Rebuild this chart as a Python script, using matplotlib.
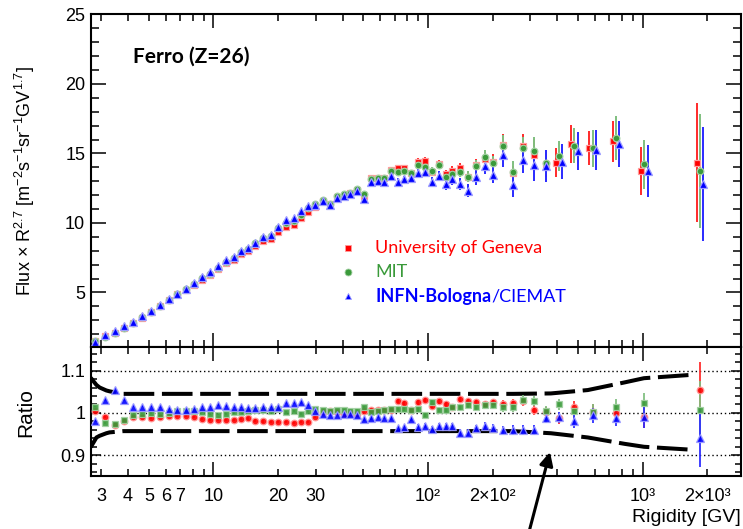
import numpy as np
import matplotlib.pyplot as plt
from matplotlib.patches import FancyArrowPatch
from matplotlib.ticker import MultipleLocator

plt.rcParams['font.family'] = ['Liberation Sans', 'DejaVu Sans']
plt.rcParams['mathtext.fontset'] = 'custom'
plt.rcParams['mathtext.rm'] = 'Liberation Sans'
plt.rcParams['mathtext.it'] = 'Liberation Sans:italic'
plt.rcParams['mathtext.bf'] = 'Liberation Sans:bold'

# bin centres [GV]
rigidity = [2.82, 3.13, 3.46, 3.83, 4.22, 4.65, 5.12, 5.63, 6.18, 6.77,
            7.42, 8.11, 8.86, 9.67, 10.55, 11.5, 12.5, 13.5, 14.5, 15.7,
            17.0, 18.5, 20.0, 21.8, 23.7, 25.6, 27.7, 29.9, 32.3, 34.8,
            37.5, 40.4, 43.5, 46.8, 50.3, 54.1, 58.2, 62.5, 67.2, 72.3,
            77.7, 83.4, 89.7, 96.4, 104, 112, 121, 130, 141, 154,
            168, 184, 202, 223, 248, 276, 311, 355, 409, 481,
            586, 753, 1020, 1850]

# flux x R^2.7 for the three analysis groups
flux_geneva = [1.47, 1.83, 2.08, 2.44, 2.81, 3.19, 3.56, 4.00, 4.42, 4.85,
               5.18, 5.55, 5.92, 6.27, 6.69, 7.10, 7.33, 7.79, 8.01, 8.33,
               8.67, 8.81, 9.34, 9.73, 9.86, 10.37, 10.76, 11.14, 11.61, 11.37,
               11.88, 11.96, 12.12, 12.35, 11.95, 13.20, 13.24, 13.26, 13.81, 13.93,
               13.93, 13.57, 14.37, 14.46, 13.69, 14.24, 13.50, 13.76, 13.93, 13.33,
               14.17, 14.60, 14.41, 15.61, 13.62, 15.56, 14.89, 14.24, 14.34, 15.68,
               15.42, 15.86, 13.76, 14.34]
flux_mit = [1.48, 1.81, 2.08, 2.44, 2.83, 3.21, 3.60, 4.03, 4.45, 4.90,
            5.25, 5.62, 6.02, 6.36, 6.77, 7.21, 7.46, 7.92, 8.15, 8.54,
            8.91, 9.05, 9.64, 9.96, 10.14, 10.58, 11.06, 11.35, 11.68, 11.38,
            11.92, 12.06, 12.18, 12.43, 12.05, 13.15, 13.20, 13.21, 13.76, 13.65,
            13.76, 13.57, 14.17, 14.01, 13.76, 14.17, 13.33, 13.52, 13.69, 13.33,
            14.10, 14.73, 14.29, 15.56, 13.69, 15.37, 15.20, 14.34, 14.82, 15.56,
            15.37, 16.10, 14.22, 13.74]
flux_infn = [1.43, 1.91, 2.25, 2.56, 2.88, 3.27, 3.65, 4.09, 4.49, 4.91,
             5.26, 5.66, 6.10, 6.47, 6.93, 7.34, 7.55, 8.00, 8.22, 8.58,
             8.97, 9.12, 9.69, 10.18, 10.33, 10.85, 11.21, 11.30, 11.58, 11.27,
             11.79, 11.97, 12.08, 12.30, 11.73, 12.95, 13.03, 12.97, 13.40, 12.97,
             13.15, 13.21, 13.57, 13.65, 12.97, 13.38, 12.80, 13.14, 12.80, 12.33,
             13.28, 14.10, 13.45, 14.89, 12.73, 14.53, 14.17, 14.10, 14.41, 15.18,
             15.25, 15.68, 13.74, 12.80]

err_geneva = [0.02, 0.02, 0.02, 0.03, 0.03, 0.03, 0.03, 0.04, 0.04, 0.04,
              0.04, 0.05, 0.05, 0.05, 0.05, 0.06, 0.06, 0.06, 0.07, 0.07,
              0.07, 0.08, 0.08, 0.09, 0.09, 0.10, 0.10, 0.11, 0.11, 0.12,
              0.12, 0.13, 0.14, 0.15, 0.16, 0.17, 0.18, 0.19, 0.20, 0.22,
              0.23, 0.25, 0.27, 0.28, 0.30, 0.32, 0.34, 0.36, 0.40, 0.42,
              0.46, 0.50, 0.55, 0.82, 0.50, 0.84, 1.17, 0.90, 1.02, 1.38,
              1.22, 1.44, 1.74, 4.26]
err_mit = [0.02, 0.02, 0.02, 0.03, 0.03, 0.03, 0.03, 0.04, 0.04, 0.04,
           0.04, 0.05, 0.05, 0.05, 0.05, 0.06, 0.06, 0.06, 0.07, 0.07,
           0.07, 0.08, 0.08, 0.09, 0.09, 0.10, 0.10, 0.11, 0.11, 0.12,
           0.12, 0.13, 0.14, 0.15, 0.16, 0.17, 0.18, 0.19, 0.20, 0.22,
           0.23, 0.25, 0.27, 0.28, 0.30, 0.32, 0.34, 0.36, 0.40, 0.42,
           0.46, 0.50, 0.55, 0.78, 0.80, 0.78, 0.95, 0.90, 1.10, 1.24,
           1.32, 1.56, 1.75, 4.10]
err_infn = [0.02, 0.02, 0.02, 0.03, 0.03, 0.03, 0.03, 0.04, 0.04, 0.04,
            0.04, 0.05, 0.05, 0.05, 0.05, 0.06, 0.06, 0.06, 0.07, 0.07,
            0.07, 0.08, 0.08, 0.09, 0.09, 0.10, 0.10, 0.11, 0.11, 0.12,
            0.12, 0.13, 0.14, 0.15, 0.16, 0.17, 0.18, 0.20, 0.22, 0.24,
            0.25, 0.27, 0.30, 0.32, 0.35, 0.38, 0.40, 0.42, 0.45, 0.48,
            0.52, 0.56, 0.60, 0.86, 0.84, 0.92, 1.14, 1.16, 1.26, 1.38,
            1.46, 1.68, 1.85, 4.10]

# ratio to the combined flux
ratio_geneva = [1.005, 0.990, 0.972, 0.982, 0.990, 0.990, 0.988, 0.991, 0.993, 0.993,
                0.993, 0.991, 0.985, 0.984, 0.984, 0.984, 0.984, 0.986, 0.987, 0.982,
                0.980, 0.979, 0.978, 0.978, 0.976, 0.978, 0.978, 0.990, 1.001, 1.004,
                1.003, 0.998, 0.999, 0.998, 1.004, 1.007, 1.007, 1.007, 1.008, 1.029,
                1.024, 1.007, 1.025, 1.031, 1.017, 1.027, 1.021, 1.013, 1.033, 1.027,
                1.025, 1.020, 1.025, 1.020, 1.023, 1.027, 1.007, 1.001, 0.987, 1.013,
                1.003, 0.999, 0.990, 1.053]
ratio_mit = [1.015, 0.976, 0.974, 0.984, 0.996, 0.998, 0.999, 0.998, 0.999, 1.005,
             1.005, 1.004, 1.001, 0.998, 0.996, 0.998, 1.001, 1.003, 1.004, 1.007,
             1.007, 1.005, 1.009, 1.001, 1.004, 0.998, 1.005, 1.009, 1.007, 1.005,
             1.007, 1.007, 1.004, 1.005, 1.013, 1.003, 1.004, 1.007, 1.009, 1.009,
             1.009, 1.008, 1.009, 0.996, 1.025, 1.008, 1.008, 1.013, 1.013, 1.019,
             1.013, 1.019, 1.019, 1.013, 1.013, 1.031, 1.029, 1.005, 1.020, 1.005,
             1.003, 1.015, 1.023, 1.007]
ratio_infn = [0.980, 1.031, 1.053, 1.031, 1.015, 1.015, 1.015, 1.013, 1.009, 1.007,
              1.007, 1.010, 1.015, 1.015, 1.019, 1.017, 1.013, 1.013, 1.012, 1.012,
              1.013, 1.013, 1.015, 1.023, 1.023, 1.025, 1.019, 1.004, 0.997, 0.996,
              0.995, 0.997, 0.997, 0.995, 0.986, 0.988, 0.991, 0.989, 0.988, 0.964,
              0.966, 0.985, 0.967, 0.970, 0.962, 0.968, 0.969, 0.970, 0.953, 0.953,
              0.964, 0.970, 0.965, 0.960, 0.960, 0.960, 0.960, 0.987, 0.990, 0.980,
              0.994, 0.987, 0.990, 0.940]

ratio_err = [0.002, 0.002, 0.002, 0.002, 0.002, 0.002, 0.002, 0.002, 0.002, 0.002,
             0.002, 0.002, 0.002, 0.002, 0.002, 0.002, 0.002, 0.002, 0.003, 0.003,
             0.003, 0.003, 0.003, 0.003, 0.003, 0.003, 0.003, 0.003, 0.003, 0.003,
             0.003, 0.003, 0.004, 0.004, 0.004, 0.004, 0.004, 0.004, 0.005, 0.005,
             0.005, 0.005, 0.006, 0.006, 0.006, 0.007, 0.007, 0.007, 0.008, 0.008,
             0.008, 0.009, 0.009, 0.010, 0.011, 0.011, 0.012, 0.012, 0.013, 0.016,
             0.017, 0.018, 0.025, 0.068]

# systematic band on the ratio
band_rigidity = [2.68, 2.85, 2.95, 3.17, 3.28, 3.8, 250, 374, 556, 824, 1016, 1700]
band_upper = [1.083, 1.066, 1.060, 1.053, 1.051, 1.045, 1.045, 1.046, 1.054, 1.072, 1.082, 1.090]
band_lower = [0.919, 0.942, 0.946, 0.952, 0.954, 0.957, 0.957, 0.952, 0.942, 0.927, 0.920, 0.913]

RED = '#ff0000'
GREEN = '#3a9a3a'
BLUE = '#0000ff'

styles = [
    # colour, halo, bar colour
    (RED, '#ff9c9c', '#ff2a2a'),
    (GREEN, '#a3d0a3', '#7fbf7f'),
    (BLUE, '#9c9cff', '#2a2aff'),
]

x = np.array(rigidity)
# spread the three groups a little at the highest rigidities
spread = np.where(x > 400, 10 ** 0.015, 1.0)

fig = plt.figure(figsize=(7.43, 5.29), dpi=100)
ax = fig.add_axes([0.1221, 0.3435, 0.8753, 0.6291])
axr = fig.add_axes([0.1221, 0.1002, 0.8753, 0.2433])

# ---- flux panel
top_series = [
    (x / spread, flux_geneva, err_geneva, 's', 4.6),
    (x, flux_mit, err_mit, 'o', 4.8),
    (x * spread, flux_infn, err_infn, '^', 5.4),
]
for (xs, ys, es, mk, ms), (c, halo, bar) in zip(top_series, styles):
    ax.errorbar(xs, ys, yerr=es, fmt=mk, ms=ms, mfc=c, mec=halo, mew=0.9,
                ecolor=bar, elinewidth=1.4, capsize=0, zorder=3)

ax.set_yticks([5, 10, 15, 20, 25])
ax.yaxis.set_minor_locator(MultipleLocator(1))
ax.set_ylim(1.05, 25)

ax.text(0.065, 0.872, 'Ferro (Z=26)', transform=ax.transAxes, family='Lato',
        fontweight='bold', fontsize=15, ha='left', va='center')

# hand-placed legend
legend_rows = [
    ('s', RED, '#ff9c9c', 0.2984),
    ('o', GREEN, '#a3d0a3', 0.2263),
    ('^', BLUE, '#9c9cff', 0.1541),
]
for mk, c, halo, yy in legend_rows:
    ax.plot([0.3957], [yy], mk, ms=5, mfc=c, mec=halo, mew=0.6,
            transform=ax.transAxes, clip_on=False)
ax.text(0.4372, 0.2984, 'University of Geneva', color=RED, family='Lato',
        fontsize=13, transform=ax.transAxes, va='center')
ax.text(0.4372, 0.2263, 'MIT', color=GREEN, family='Lato',
        fontsize=13, transform=ax.transAxes, va='center')
t_infn = ax.text(0.4372, 0.1541, 'INFN-Bologna', color=BLUE, family='Lato',
                 fontweight='bold', fontsize=13, transform=ax.transAxes, va='center')
ax.annotate('/CIEMAT', xy=(1, 0), xycoords=t_infn, color=BLUE, family='Lato',
            fontsize=13, va='bottom', ha='left')

# ---- ratio panel
for yv in (0.9, 1.0, 1.1):
    axr.axhline(yv, color='black', lw=1.0, ls=(0, (1, 2)), zorder=1)

for yb in (band_upper, band_lower):
    axr.plot(band_rigidity, yb, color='black', lw=2.9, dashes=(7.6, 1.9),
             dash_capstyle='butt', zorder=2)

ratio_series = [
    (ratio_geneva, 'o', 4.8),
    (ratio_mit, 's', 4.6),
    (ratio_infn, '^', 5.2),
]
for (ys, mk, ms), (c, halo, bar) in zip(ratio_series, styles):
    axr.errorbar(x, ys, yerr=ratio_err, fmt=mk, ms=ms, mfc=c, mec=halo, mew=0.9,
                 ecolor=bar, elinewidth=1.4, capsize=0, alpha=0.9, zorder=3)

axr.set_yticks([0.9, 1.0, 1.1], labels=['0.9', '1', '1.1'])
axr.yaxis.set_minor_locator(MultipleLocator(0.02))
axr.set_ylim(0.851, 1.155)

# ---- shared x-axis layout
minor_ticks = [m * d for d in (1, 10, 100) for m in range(2, 10)] + [2000]
minor_names = {3: '3', 4: '4', 5: '5', 6: '6', 7: '7', 20: '20', 30: '30',
               200: '2×10²', 2000: '2×10³'}
for a in (ax, axr):
    a.set_xscale('log')
    a.set_xticks([10, 100, 1000], labels=['10', '10²', '10³'])
    a.set_xticks(minor_ticks, labels=[minor_names.get(t, '') for t in minor_ticks],
                 minor=True)
    # limits go last so the tick lists cannot widen them
    a.set_xlim(2.68, 2880)
    a.tick_params(which='both', direction='in', top=True, right=True,
                  width=1.1, labelsize=13)
    for s in a.spines.values():
        s.set_linewidth(1.5)

ax.tick_params(axis='x', which='both', labelbottom=False)
ax.tick_params(axis='x', which='major', length=10)
ax.tick_params(axis='x', which='minor', length=5)
ax.tick_params(axis='y', which='major', length=11, pad=4)
ax.tick_params(axis='y', which='minor', length=6)

axr.tick_params(axis='x', which='major', length=10, pad=9)
axr.tick_params(axis='x', which='minor', length=5, pad=9)
axr.tick_params(axis='y', which='major', length=7, pad=4)
axr.tick_params(axis='y', which='minor', length=4)

fig.text(0.034, 0.658, 'Flux × R$^{2.7}$ [m$^{-2}$s$^{-1}$sr$^{-1}$GV$^{1.7}$]',
         rotation=90, ha='center', va='center', fontsize=13)
fig.text(0.034, 0.221, 'Ratio', rotation=90, ha='center', va='center', fontsize=15)
fig.text(0.997, 0.013, 'Rigidity [GV]', ha='right', va='baseline', fontsize=14)

# pointer into the band, drawn above both panels
arrow = FancyArrowPatch((527 / 743, -0.02), (550 / 743, 1 - 452 / 529),
                        transform=fig.transFigure, arrowstyle='-|>',
                        color='black', lw=2.2, mutation_scale=20,
                        shrinkA=0, shrinkB=0, zorder=5)
fig.add_artist(arrow)

fig.savefig('out.png', dpi=100)
